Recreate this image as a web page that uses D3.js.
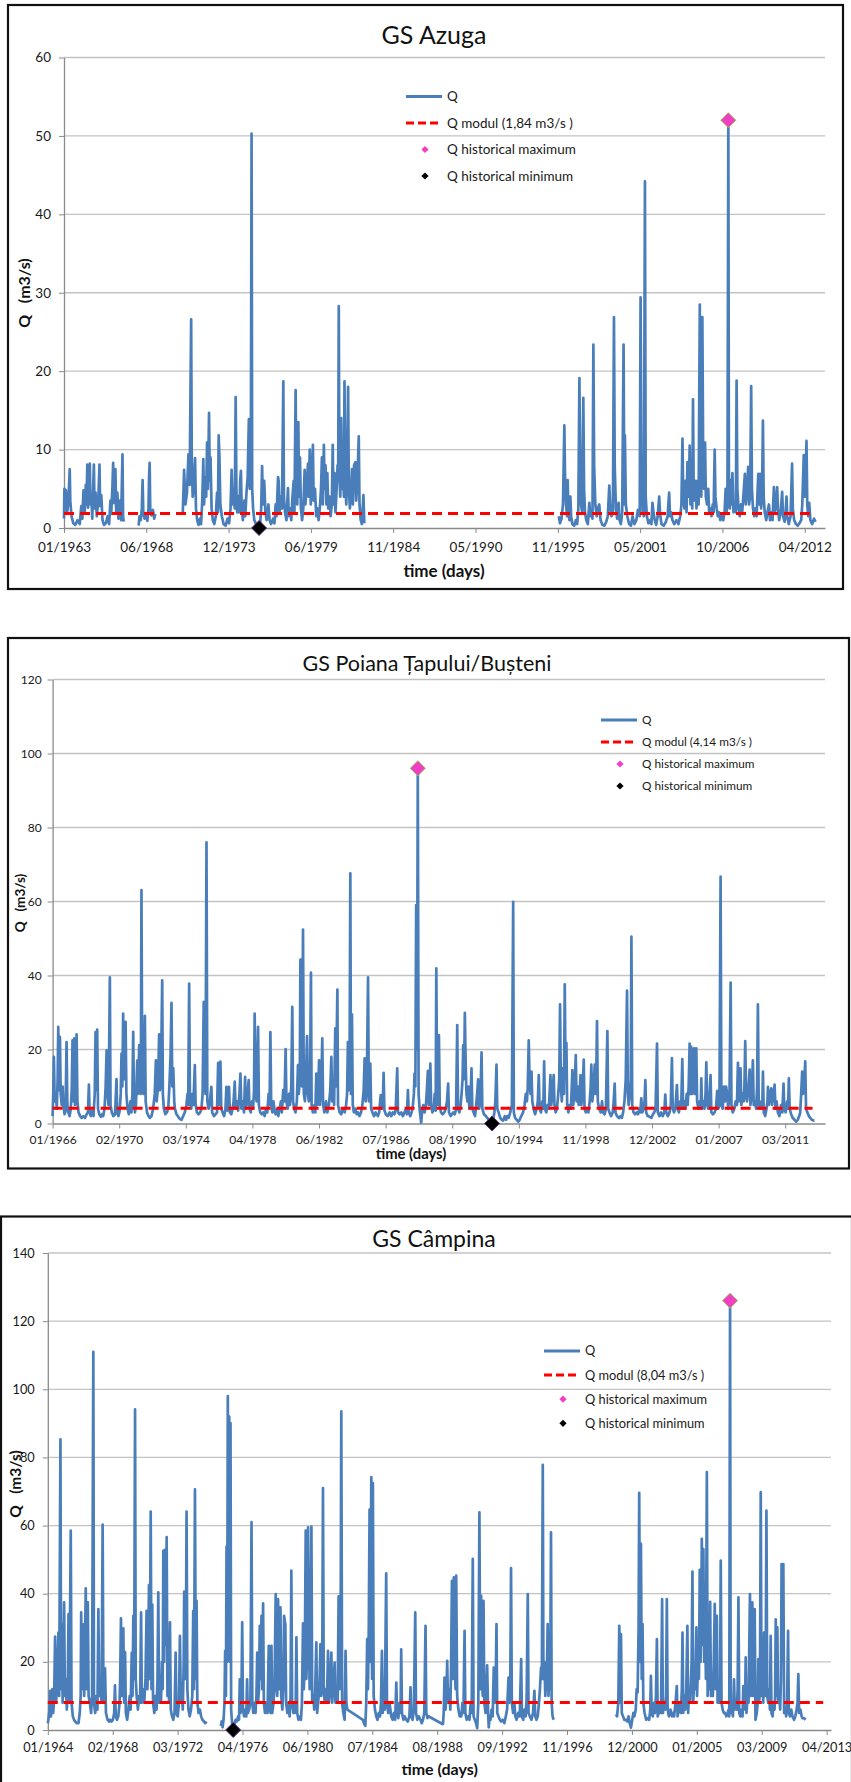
<!DOCTYPE html>
<html>
<head>
<meta charset="UTF-8">
<title>GS discharge series</title>
<style>
  body { margin: 0; background: #fff; }
  svg { display: block; font-family: Lato, "Open Sans", sans-serif; }
  .tick text { fill: #1a1a1a; }
  .legend text { fill: #1a1a1a; }
</style>
</head>
<body>
<svg id="chart" width="851" height="1782"></svg>

<script src="https://d3js.org/d3.v7.min.js"></script>
<script>
// daily discharge, [year fraction, Q m3/s], null = no data
const azugaQ = [
  [1963.00,1.2],[1963.03,5.0],[1963.08,2.5],[1963.13,4.8],[1963.20,1.8],[1963.30,3.5],[1963.38,7.5],[1963.42,3.4],[1963.50,1.5],[1963.62,0.6],[1963.75,0.4],[1963.90,1.0],
  [1964.05,0.5],[1964.15,2.8],[1964.22,1.2],[1964.30,4.8],[1964.38,2.0],[1964.45,5.5],[1964.50,3.0],[1964.55,8.1],[1964.60,2.6],[1964.66,5.0],[1964.72,8.2],[1964.76,3.0],[1964.82,4.0],[1964.88,1.2],
  [1964.99,8.1],[1965.03,2.5],[1965.10,4.5],[1965.18,1.5],[1965.28,3.5],[1965.36,8.1],[1965.40,2.8],[1965.48,4.2],[1965.56,1.0],[1965.66,0.4],[1965.78,0.6],[1965.90,1.5],
  [1966.00,0.5],[1966.09,3.5],[1966.14,1.8],[1966.22,5.2],[1966.27,8.3],[1966.31,3.2],[1966.37,5.0],[1966.42,7.5],[1966.47,2.0],[1966.55,4.5],[1966.62,1.2],[1966.72,3.5],[1966.80,1.0],[1966.89,9.4],[1966.93,1.5],[1966.97,0.8],
  null,
  [1967.97,0.3],[1968.02,1.5],[1968.10,1.0],[1968.18,2.5],[1968.23,6.1],[1968.28,1.8],[1968.36,1.2],[1968.46,1.8],[1968.55,0.9],[1968.62,2.5],[1968.66,6.5],[1968.70,8.3],[1968.74,2.2],[1968.82,1.6],[1968.92,2.3],[1969.00,1.2],[1969.07,1.8],
  null,
  [1970.90,1.8],[1970.99,7.4],[1971.08,3.0],[1971.18,4.5],[1971.28,9.4],[1971.36,5.5],[1971.46,26.6],[1971.50,9.0],[1971.56,4.0],[1971.64,5.5],[1971.72,8.9],[1971.78,2.5],[1971.86,1.0],[1971.95,0.4],
  [1972.05,1.2],[1972.12,0.5],[1972.20,3.5],[1972.27,8.8],[1972.32,3.0],[1972.40,6.5],[1972.46,4.0],[1972.52,10.9],[1972.58,5.0],[1972.65,14.7],[1972.70,6.0],[1972.75,9.0],[1972.82,2.5],[1972.90,1.0],
  [1973.00,0.5],[1973.10,1.5],[1973.18,4.5],[1973.24,2.0],[1973.29,11.8],[1973.34,9.0],[1973.40,3.0],[1973.50,1.5],[1973.62,0.5],[1973.75,0.3],[1973.88,1.2],[1973.98,0.6],
  [1974.08,2.5],[1974.15,7.4],[1974.22,3.0],[1974.30,5.0],[1974.36,2.5],[1974.42,16.7],[1974.47,5.0],[1974.52,2.0],[1974.60,4.0],[1974.67,2.0],[1974.72,6.0],[1974.77,7.3],[1974.82,2.5],[1974.90,1.0],
  [1975.00,3.5],[1975.06,1.5],[1975.14,4.5],[1975.22,6.5],[1975.30,13.9],[1975.36,5.0],[1975.43,8.0],[1975.48,50.3],[1975.52,5.0],[1975.58,2.5],[1975.66,1.0],[1975.78,0.5],[1975.90,0.3],[1975.98,0.15],
  [1976.06,0.8],[1976.12,2.5],[1976.18,7.9],[1976.24,3.0],[1976.32,6.0],[1976.40,2.0],[1976.48,1.0],[1976.60,3.0],[1976.68,1.0],[1976.78,0.5],[1976.91,1.2],
  [1977.00,0.6],[1977.08,3.0],[1977.14,1.5],[1977.20,4.5],[1977.24,6.5],[1977.28,6.0],[1977.34,2.0],[1977.42,4.0],[1977.50,2.5],[1977.59,18.7],[1977.63,4.0],[1977.70,2.0],[1977.80,1.0],[1977.90,5.1],[1977.95,1.5],
  [1978.05,2.5],[1978.12,1.0],[1978.20,4.0],[1978.28,6.0],[1978.33,2.0],[1978.41,17.6],[1978.46,5.0],[1978.52,3.0],[1978.59,13.5],[1978.64,4.0],[1978.70,9.0],[1978.76,2.5],[1978.84,1.0],[1978.92,2.5],
  [1979.01,7.4],[1979.06,3.0],[1979.14,5.0],[1979.23,8.2],[1979.28,4.0],[1979.35,10.0],[1979.42,3.0],[1979.49,6.0],[1979.56,10.6],[1979.61,3.5],[1979.70,5.0],[1979.78,1.5],[1979.86,2.5],[1979.94,1.0],
  [1980.02,2.5],[1980.10,5.0],[1980.16,9.0],[1980.22,3.0],[1980.29,10.6],[1980.34,5.0],[1980.40,8.0],[1980.46,3.0],[1980.52,7.0],[1980.58,2.5],[1980.66,4.0],[1980.74,1.5],[1980.82,3.0],[1980.88,10.6],[1980.93,3.0],
  [1981.00,7.0],[1981.06,2.0],[1981.14,5.0],[1981.20,8.0],[1981.24,6.0],[1981.28,28.3],[1981.32,7.0],[1981.38,4.0],[1981.44,14.0],[1981.50,5.0],[1981.56,8.0],[1981.62,4.0],[1981.66,18.7],[1981.71,6.0],[1981.78,3.0],[1981.84,8.0],[1981.90,18.0],[1981.95,5.0],
  [1982.02,2.5],[1982.10,5.0],[1982.16,7.5],[1982.22,3.0],[1982.30,8.0],[1982.39,8.4],[1982.44,3.5],[1982.52,6.0],[1982.61,11.7],[1982.66,3.0],[1982.74,1.0],[1982.82,0.5],[1982.92,4.2],[1982.98,0.6],
  null,
  [1995.92,1.5],[1996.00,0.6],[1996.10,1.2],[1996.20,3.0],[1996.29,13.1],[1996.34,6.0],[1996.40,3.0],[1996.47,1.5],[1996.51,6.1],[1996.56,2.0],[1996.63,1.0],[1996.69,4.0],[1996.74,1.5],[1996.82,0.5],[1996.95,0.3],
  [1997.05,1.0],[1997.14,0.5],[1997.22,2.5],[1997.29,19.1],[1997.34,8.0],[1997.40,3.0],[1997.47,2.0],[1997.55,16.6],[1997.60,5.0],[1997.66,2.0],[1997.75,1.0],[1997.85,0.5],[1997.95,3.2],
  [1998.02,1.5],[1998.10,2.0],[1998.16,1.2],[1998.22,23.4],[1998.27,8.0],[1998.35,3.0],[1998.44,1.5],[1998.52,2.5],[1998.61,3.0],[1998.70,1.0],[1998.82,0.4],[1998.95,0.3],
  [1999.08,0.8],[1999.18,1.5],[1999.28,5.4],[1999.34,3.0],[1999.42,1.5],[1999.52,1.8],[1999.59,26.9],[1999.64,8.0],[1999.72,2.5],[1999.80,1.2],[1999.90,3.2],[1999.96,1.0],
  [2000.05,0.5],[2000.14,2.0],[2000.23,23.4],[2000.28,3.0],[2000.32,11.8],[2000.38,3.0],[2000.48,1.5],[2000.60,0.5],[2000.72,0.3],[2000.83,1.5],[2000.95,0.5],
  [2001.08,1.0],[2001.18,2.3],[2001.30,1.5],[2001.36,29.4],[2001.42,6.0],[2001.50,2.0],[2001.58,1.5],[2001.65,44.2],[2001.70,4.0],[2001.78,1.5],[2001.88,0.6],
  [2002.00,1.0],[2002.08,0.5],[2002.15,3.2],[2002.22,2.0],[2002.30,1.0],[2002.40,0.4],[2002.50,1.5],[2002.60,4.0],[2002.65,2.0],[2002.75,0.5],[2002.90,0.3],
  [2003.05,0.8],[2003.16,1.5],[2003.26,4.5],[2003.32,1.5],[2003.40,2.0],[2003.48,1.0],[2003.60,0.5],[2003.75,1.0],[2003.88,0.5],
  [2004.00,1.5],[2004.08,3.0],[2004.15,11.4],[2004.20,4.0],[2004.28,2.5],[2004.36,6.0],[2004.42,2.0],[2004.48,8.4],[2004.53,4.0],[2004.58,6.0],[2004.63,10.5],[2004.68,3.0],[2004.74,5.0],[2004.80,2.5],[2004.85,16.4],[2004.90,3.5],[2004.96,5.0],
  [2005.03,6.0],[2005.08,2.5],[2005.15,6.0],[2005.22,3.0],[2005.30,28.5],[2005.34,8.0],[2005.40,4.0],[2005.47,26.9],[2005.52,10.0],[2005.58,5.0],[2005.65,10.9],[2005.70,4.0],[2005.78,3.0],[2005.86,5.0],[2005.92,2.0],
  [2006.00,2.5],[2006.08,1.5],[2006.16,3.0],[2006.22,2.0],[2006.29,10.0],[2006.34,4.0],[2006.42,2.5],[2006.50,1.5],[2006.58,2.0],[2006.66,1.0],[2006.76,1.5],[2006.86,1.0],[2006.95,2.0],
  [2007.02,5.0],[2007.08,2.0],[2007.14,3.0],[2007.20,52.0],[2007.24,4.0],[2007.30,2.5],[2007.35,6.1],[2007.40,3.0],[2007.47,7.0],[2007.54,2.0],[2007.62,3.0],[2007.70,2.0],[2007.75,18.8],[2007.80,5.0],[2007.88,2.5],[2007.96,1.5],
  [2008.05,3.0],[2008.12,2.0],[2008.20,4.0],[2008.30,6.9],[2008.36,3.0],[2008.45,5.0],[2008.52,7.8],[2008.58,3.0],[2008.65,4.0],[2008.72,18.1],[2008.77,5.0],[2008.84,2.5],[2008.92,1.5],
  [2009.00,2.5],[2009.08,1.5],[2009.19,6.9],[2009.25,3.0],[2009.31,6.9],[2009.38,2.5],[2009.44,4.0],[2009.50,13.7],[2009.55,4.0],[2009.62,2.0],[2009.72,1.0],[2009.80,2.0],[2009.90,3.0],[2009.97,1.0],
  [2010.06,2.0],[2010.14,1.0],[2010.23,5.2],[2010.30,2.0],[2010.38,3.0],[2010.45,5.2],[2010.50,2.5],[2010.58,1.0],[2010.68,2.0],[2010.78,4.6],[2010.84,1.5],[2010.94,0.8],
  [2011.00,1.5],[2011.07,4.0],[2011.12,1.5],[2011.22,0.5],[2011.34,1.5],[2011.44,8.2],[2011.49,2.5],[2011.58,1.0],[2011.70,0.5],[2011.82,0.3],[2011.93,0.6],
  [2012.05,1.0],[2012.12,3.0],[2012.22,9.3],[2012.28,4.0],[2012.34,6.0],[2012.40,11.1],[2012.45,3.0],[2012.52,1.5],[2012.58,3.2],[2012.66,1.0],[2012.78,0.5],[2012.90,1.2],[2013.00,0.8]
];
const azugaModul = 1.84;
const azugaMax = [2007.20, 52.0];
const azugaMin = [1975.98, 0.1];

const poianaQ = [
  [1966.00,2.0],[1966.04,8.0],[1966.08,18.0],[1966.13,6.0],[1966.21,8.0],[1966.26,4.0],[1966.31,12.0],[1966.35,26.1],[1966.40,9.0],[1966.45,23.4],[1966.50,8.0],[1966.56,5.0],[1966.62,10.0],[1966.66,5.0],[1966.74,2.5],[1966.80,3.5],[1966.86,22.0],[1966.91,5.0],[1966.97,3.0],
  [1967.05,2.0],[1967.12,4.0],[1967.18,9.0],[1967.23,22.5],[1967.28,6.0],[1967.33,23.0],[1967.38,5.0],[1967.43,10.0],[1967.48,24.1],[1967.53,6.0],[1967.60,3.0],[1967.70,2.0],[1967.79,1.5],[1967.90,2.0],
  [1968.00,1.5],[1968.10,2.5],[1968.18,3.0],[1968.24,10.5],[1968.28,3.0],[1968.36,2.0],[1968.45,3.5],[1968.52,2.0],[1968.60,8.0],[1968.65,24.7],[1968.70,9.0],[1968.75,25.4],[1968.80,4.0],[1968.88,2.5],[1968.98,1.8],
  [1969.05,2.5],[1969.12,2.0],[1969.20,4.0],[1969.27,10.0],[1969.33,19.8],[1969.38,8.0],[1969.45,5.0],[1969.53,39.5],[1969.57,5.0],[1969.65,3.0],[1969.75,2.0],[1969.85,2.5],[1969.94,12.0],[1969.98,3.0],
  [1970.06,2.0],[1970.14,3.5],[1970.20,8.0],[1970.25,18.9],[1970.30,10.0],[1970.35,29.7],[1970.40,12.0],[1970.45,20.0],[1970.50,27.5],[1970.55,8.0],[1970.62,4.0],[1970.70,2.5],[1970.80,6.0],[1970.86,3.0],[1970.92,8.0],[1970.97,24.8],
  [1971.02,6.0],[1971.08,3.0],[1971.14,5.0],[1971.22,17.0],[1971.27,8.0],[1971.34,21.2],[1971.40,12.0],[1971.44,8.0],[1971.48,63.1],[1971.53,10.0],[1971.60,8.0],[1971.64,14.0],[1971.69,29.1],[1971.74,6.0],[1971.82,3.0],[1971.92,2.0],
  [1972.00,1.5],[1972.10,2.0],[1972.20,4.0],[1972.30,8.0],[1972.37,17.1],[1972.42,6.0],[1972.50,10.0],[1972.57,24.1],[1972.62,9.0],[1972.68,12.0],[1972.76,38.7],[1972.80,8.0],[1972.86,4.0],[1972.95,2.5],
  [1973.04,3.0],[1973.13,4.0],[1973.20,10.0],[1973.27,18.0],[1973.33,32.6],[1973.38,10.0],[1973.44,15.0],[1973.50,6.0],[1973.54,4.0],[1973.64,2.5],[1973.75,1.8],[1973.85,1.2],[1973.95,1.0],
  [1974.05,2.0],[1974.15,3.0],[1974.25,5.0],[1974.32,8.0],[1974.36,5.0],[1974.42,37.8],[1974.47,6.0],[1974.55,4.0],[1974.62,8.0],[1974.68,5.0],[1974.77,15.8],[1974.82,5.0],[1974.90,3.0],
  [1975.00,2.5],[1975.10,3.0],[1975.18,4.0],[1975.25,8.0],[1975.32,32.9],[1975.38,12.0],[1975.43,8.0],[1975.49,76.0],[1975.54,6.0],[1975.62,4.0],[1975.70,6.0],[1975.79,9.9],[1975.84,3.0],[1975.95,2.0],
  [1976.05,2.5],[1976.14,3.0],[1976.21,16.4],[1976.28,5.0],[1976.35,16.7],[1976.40,4.0],[1976.48,3.0],[1976.58,2.0],[1976.66,4.0],[1976.72,9.9],[1976.78,3.5],[1976.88,9.9],[1976.93,3.0],
  [1977.02,2.5],[1977.10,4.0],[1977.16,6.0],[1977.23,11.3],[1977.28,4.0],[1977.36,6.0],[1977.44,3.5],[1977.52,8.0],[1977.58,13.5],[1977.64,4.0],[1977.72,6.0],[1977.80,3.0],[1977.87,12.6],[1977.92,4.0],
  [1978.00,6.0],[1978.09,11.7],[1978.14,4.0],[1978.22,3.0],[1978.30,6.0],[1978.36,4.0],[1978.42,9.0],[1978.46,29.7],[1978.52,8.0],[1978.58,6.0],[1978.67,26.1],[1978.72,5.0],[1978.80,3.0],[1978.90,2.5],[1978.98,3.0],
  [1979.08,2.0],[1979.16,4.0],[1979.24,3.0],[1979.32,8.0],[1979.38,5.0],[1979.43,24.7],[1979.48,5.0],[1979.55,3.0],[1979.62,6.0],[1979.70,3.0],[1979.76,2.5],[1979.85,4.0],[1979.92,2.0],
  [1980.00,4.0],[1980.08,6.0],[1980.14,3.0],[1980.22,9.0],[1980.30,6.0],[1980.37,20.1],[1980.42,6.0],[1980.50,4.0],[1980.58,8.0],[1980.64,5.0],[1980.72,10.0],[1980.78,31.5],[1980.83,6.0],[1980.90,4.0],[1980.98,3.0],
  [1981.06,6.0],[1981.13,15.8],[1981.18,8.0],[1981.24,12.0],[1981.28,44.3],[1981.32,14.0],[1981.38,10.0],[1981.44,52.4],[1981.49,8.0],[1981.56,6.0],[1981.62,12.0],[1981.69,23.6],[1981.74,8.0],[1981.80,6.0],[1981.87,10.0],[1981.93,40.8],[1981.97,5.0],
  [1982.05,3.0],[1982.14,5.0],[1982.20,3.0],[1982.26,13.5],[1982.32,5.0],[1982.38,8.0],[1982.43,17.1],[1982.48,5.0],[1982.56,9.0],[1982.63,23.0],[1982.68,5.0],[1982.76,3.0],[1982.86,6.0],[1982.94,3.0],
  [1983.04,5.0],[1983.12,9.0],[1983.19,18.0],[1983.24,6.0],[1983.30,10.0],[1983.36,5.0],[1983.43,25.7],[1983.48,10.0],[1983.56,36.2],[1983.60,5.0],[1983.70,3.0],[1983.80,2.5],[1983.90,4.0],
  [1984.01,3.0],[1984.10,5.0],[1984.16,8.0],[1984.21,22.0],[1984.26,9.0],[1984.31,12.0],[1984.36,67.6],[1984.40,8.0],[1984.46,29.5],[1984.51,5.0],[1984.58,3.0],[1984.68,4.0],[1984.75,2.5],[1984.83,3.0],[1984.92,2.0],
  [1985.02,3.0],[1985.10,5.0],[1985.18,9.0],[1985.24,17.6],[1985.30,6.0],[1985.37,9.0],[1985.45,39.5],[1985.50,6.0],[1985.59,16.2],[1985.64,4.0],[1985.72,3.0],[1985.82,2.0],[1985.92,3.0],
  [1986.06,2.0],[1986.14,3.0],[1986.23,7.7],[1986.30,4.0],[1986.36,5.0],[1986.41,13.7],[1986.46,3.5],[1986.55,2.5],[1986.66,2.0],[1986.78,3.0],[1986.88,2.0],[1986.98,3.0],
  [1987.08,2.5],[1987.16,4.0],[1987.25,14.9],[1987.30,3.0],[1987.40,2.5],[1987.50,3.0],[1987.60,2.0],[1987.70,3.0],[1987.80,4.0],[1987.85,2.5],[1987.91,9.0],[1987.96,3.0],
  [1988.06,2.0],[1988.14,3.0],[1988.22,5.0],[1988.28,8.0],[1988.32,13.5],[1988.37,10.0],[1988.42,59.0],[1988.47,20.0],[1988.52,96.0],[1988.57,8.0],[1988.63,4.0],[1988.68,2.0],[1988.73,0.2],[1988.78,3.0],[1988.86,5.0],[1988.94,3.0],
  [1989.02,5.0],[1989.09,10.0],[1989.14,14.2],[1989.20,5.0],[1989.25,8.0],[1989.29,16.2],[1989.34,5.0],[1989.42,3.0],[1989.50,4.0],[1989.56,8.0],[1989.62,3.5],[1989.66,41.9],[1989.71,8.0],[1989.77,5.0],[1989.82,23.9],[1989.87,5.0],[1989.95,3.0],
  [1990.05,2.5],[1990.15,3.0],[1990.24,4.0],[1990.32,6.0],[1990.39,10.8],[1990.44,3.0],[1990.55,2.0],[1990.70,3.0],[1990.80,2.5],[1990.88,4.0],[1990.95,26.6],
  [1991.00,4.0],[1991.08,3.0],[1991.16,5.0],[1991.22,8.0],[1991.28,12.0],[1991.32,21.2],[1991.37,12.0],[1991.42,29.9],[1991.47,16.7],[1991.52,8.0],[1991.58,6.0],[1991.64,10.0],[1991.70,4.0],[1991.78,8.0],[1991.83,14.9],[1991.88,4.0],[1991.96,3.0],
  [1992.05,2.0],[1992.12,5.0],[1992.18,8.0],[1992.24,11.9],[1992.30,4.0],[1992.38,6.0],[1992.45,19.2],[1992.50,4.0],[1992.60,2.5],[1992.72,2.0],[1992.80,1.5],[1992.90,1.0],
  [1993.00,0.6],[1993.10,0.1],[1993.18,1.5],[1993.24,3.0],[1993.30,6.0],[1993.37,15.9],[1993.42,4.0],[1993.50,3.0],[1993.60,1.5],[1993.70,1.0],[1993.78,0.8],[1993.88,2.0],[1993.96,1.0],
  [1994.04,2.0],[1994.12,1.5],[1994.22,3.0],[1994.32,5.0],[1994.40,59.9],[1994.44,3.0],[1994.52,1.5],[1994.62,1.0],[1994.71,0.5],[1994.80,1.0],[1994.90,2.0],
  [1995.01,3.0],[1995.10,5.0],[1995.18,8.0],[1995.25,6.0],[1995.30,10.0],[1995.36,22.5],[1995.41,12.0],[1995.47,8.0],[1995.53,14.0],[1995.58,6.0],[1995.66,4.0],[1995.75,2.5],[1995.85,4.0],[1995.92,6.0],[1995.98,13.1],
  [1996.03,4.0],[1996.12,3.0],[1996.20,6.0],[1996.26,4.0],[1996.31,16.8],[1996.36,4.0],[1996.44,3.0],[1996.52,5.0],[1996.60,4.0],[1996.70,13.1],[1996.75,5.0],[1996.82,8.0],[1996.90,13.1],[1996.95,5.0],
  [1997.02,3.0],[1997.10,4.0],[1997.18,8.0],[1997.24,12.0],[1997.29,32.2],[1997.34,10.0],[1997.40,6.0],[1997.47,15.0],[1997.53,8.0],[1997.58,37.6],[1997.63,12.0],[1997.68,21.8],[1997.73,5.0],[1997.80,3.0],[1997.88,5.0],[1997.96,4.0],
  [1998.05,14.4],[1998.10,5.0],[1998.18,8.0],[1998.26,18.5],[1998.31,6.0],[1998.38,10.0],[1998.44,5.0],[1998.50,8.0],[1998.55,13.1],[1998.60,5.0],[1998.68,8.0],[1998.75,17.3],[1998.80,4.0],[1998.88,3.0],[1998.96,4.0],
  [1999.04,3.0],[1999.12,6.0],[1999.18,10.0],[1999.22,15.9],[1999.28,6.0],[1999.35,9.0],[1999.43,15.9],[1999.48,8.0],[1999.52,12.0],[1999.57,27.7],[1999.62,6.0],[1999.70,4.0],[1999.80,3.0],[1999.88,6.0],[1999.94,3.0],
  [2000.04,2.5],[2000.12,4.0],[2000.21,25.0],[2000.26,4.0],[2000.34,3.0],[2000.44,2.0],[2000.54,3.0],[2000.60,6.0],[2000.66,10.8],[2000.71,3.0],[2000.80,2.0],[2000.92,1.5],
  [2001.02,2.0],[2001.10,1.5],[2001.18,3.0],[2001.26,6.0],[2001.34,12.0],[2001.42,35.9],[2001.47,8.0],[2001.52,5.0],[2001.60,8.0],[2001.65,12.0],[2001.69,50.5],[2001.74,5.0],[2001.82,3.0],[2001.92,2.5],
  [2002.02,3.0],[2002.10,2.5],[2002.18,4.0],[2002.24,3.0],[2002.30,6.8],[2002.36,3.0],[2002.44,4.0],[2002.50,6.0],[2002.55,11.7],[2002.60,3.0],[2002.70,2.0],[2002.82,1.8],[2002.92,1.5],
  [2003.02,2.5],[2003.10,3.0],[2003.18,4.0],[2003.27,21.6],[2003.32,3.0],[2003.42,2.0],[2003.52,3.0],[2003.62,2.0],[2003.72,3.0],[2003.78,7.8],[2003.84,3.0],[2003.94,2.0],
  [2004.04,3.0],[2004.12,5.0],[2004.19,17.7],[2004.24,4.0],[2004.32,3.0],[2004.40,4.0],[2004.50,10.4],[2004.55,4.0],[2004.62,3.0],[2004.70,6.0],[2004.76,4.0],[2004.83,17.4],[2004.88,4.0],[2004.95,6.0],
  [2005.02,4.0],[2005.10,8.0],[2005.16,5.0],[2005.22,10.0],[2005.28,21.6],[2005.33,8.0],[2005.38,20.7],[2005.43,8.0],[2005.49,12.0],[2005.55,20.3],[2005.60,8.0],[2005.65,12.0],[2005.69,20.3],[2005.74,6.0],[2005.82,4.0],[2005.90,6.0],[2005.96,4.0],
  [2006.00,12.2],[2006.05,4.0],[2006.12,6.0],[2006.20,4.0],[2006.26,8.0],[2006.31,16.5],[2006.36,5.0],[2006.44,4.0],[2006.51,8.0],[2006.57,13.1],[2006.62,3.0],[2006.72,2.5],[2006.82,3.0],[2006.90,4.0],[2006.98,8.8],
  [2007.04,4.0],[2007.12,5.0],[2007.19,66.7],[2007.24,5.0],[2007.32,4.0],[2007.40,10.0],[2007.46,6.0],[2007.53,10.0],[2007.60,7.9],[2007.66,4.0],[2007.74,8.0],[2007.81,38.1],[2007.86,5.0],[2007.94,3.0],
  [2008.04,4.0],[2008.12,6.0],[2008.20,5.0],[2008.26,16.4],[2008.31,6.0],[2008.37,9.0],[2008.42,14.9],[2008.47,5.0],[2008.55,8.0],[2008.62,6.0],[2008.66,10.0],[2008.71,22.3],[2008.76,8.0],[2008.82,6.0],[2008.90,9.0],[2008.98,14.6],
  [2009.03,5.0],[2009.10,8.0],[2009.18,17.1],[2009.23,5.0],[2009.30,6.0],[2009.38,4.0],[2009.44,10.0],[2009.49,32.2],[2009.54,5.0],[2009.62,4.0],[2009.70,6.0],[2009.76,4.0],[2009.80,14.0],[2009.85,3.0],[2009.94,2.0],
  [2010.02,4.0],[2010.08,6.0],[2010.11,9.9],[2010.16,5.0],[2010.22,7.0],[2010.31,9.5],[2010.36,5.0],[2010.44,8.0],[2010.52,10.5],[2010.57,4.0],[2010.64,6.0],[2010.72,3.0],[2010.82,2.0],[2010.92,5.0],
  [2011.00,3.0],[2011.07,10.8],[2011.12,4.0],[2011.20,3.0],[2011.30,6.0],[2011.35,4.0],[2011.40,12.2],[2011.45,4.0],[2011.54,2.5],[2011.64,1.5],[2011.75,1.0],[2011.85,0.5],[2011.95,1.0],
  [2012.04,2.0],[2012.10,3.0],[2012.16,8.0],[2012.22,14.0],[2012.28,8.0],[2012.34,10.0],[2012.41,16.8],[2012.46,4.0],[2012.54,3.0],[2012.64,2.0],[2012.72,1.5],[2012.82,1.0],[2012.92,0.8],[2012.98,0.8]
];
const poianaModul = 4.14;
const poianaMax = [1988.52, 96.0];
const poianaMin = [1993.10, 0.1];

const campinaQ = [
  [1964.00,2.0],[1964.04,3.0],[1964.10,6.0],[1964.15,11.5],[1964.20,4.0],[1964.29,12.0],[1964.34,5.0],[1964.40,9.0],[1964.46,27.4],[1964.52,8.0],[1964.58,12.0],[1964.67,28.6],[1964.72,10.0],[1964.80,85.3],[1964.84,12.0],[1964.88,31.0],[1964.94,8.0],
  [1965.03,37.5],[1965.08,10.0],[1965.14,15.0],[1965.20,6.0],[1965.26,12.0],[1965.31,34.0],[1965.36,8.0],[1965.45,58.5],[1965.50,8.0],[1965.58,4.0],[1965.66,3.0],[1965.73,2.5],[1965.84,2.0],[1965.94,2.0],
  [1966.02,5.0],[1966.08,10.0],[1966.11,34.5],[1966.16,12.0],[1966.20,20.0],[1966.25,31.0],[1966.30,10.0],[1966.35,25.0],[1966.40,41.6],[1966.45,12.0],[1966.53,37.5],[1966.58,10.0],[1966.66,8.0],[1966.74,5.0],[1966.80,10.0],[1966.88,111.0],[1966.92,8.0],
  [1967.00,5.0],[1967.08,10.0],[1967.14,6.0],[1967.20,35.5],[1967.25,10.0],[1967.32,15.0],[1967.40,8.0],[1967.47,60.3],[1967.52,10.0],[1967.58,8.0],[1967.62,18.1],[1967.68,5.0],[1967.78,3.0],[1967.88,2.5],[1967.94,3.0],
  [1968.04,2.5],[1968.12,3.0],[1968.20,5.0],[1968.25,13.1],[1968.30,4.0],[1968.38,3.0],[1968.46,4.0],[1968.54,8.0],[1968.58,15.0],[1968.63,32.8],[1968.68,10.0],[1968.74,15.0],[1968.78,29.8],[1968.83,8.0],[1968.89,22.9],[1968.94,5.0],
  [1969.02,3.0],[1969.10,6.0],[1969.18,10.0],[1969.24,6.0],[1969.31,22.7],[1969.36,10.0],[1969.41,33.5],[1969.46,15.0],[1969.52,94.1],[1969.56,15.0],[1969.62,10.0],[1969.70,6.0],[1969.78,10.0],[1969.84,8.0],[1969.90,34.5],[1969.95,8.0],
  [1970.02,12.0],[1970.10,8.0],[1970.18,15.0],[1970.25,35.0],[1970.30,12.0],[1970.35,20.0],[1970.40,42.6],[1970.45,15.0],[1970.51,64.1],[1970.56,12.0],[1970.61,36.8],[1970.66,8.0],[1970.74,5.0],[1970.82,10.0],[1970.88,6.0],[1970.94,15.0],[1970.99,40.4],
  [1971.04,8.0],[1971.10,12.0],[1971.16,8.0],[1971.22,20.0],[1971.27,12.0],[1971.31,52.6],[1971.36,20.0],[1971.41,52.9],[1971.46,25.0],[1971.52,56.6],[1971.57,10.0],[1971.62,15.0],[1971.68,8.0],[1971.73,31.6],[1971.78,6.0],[1971.86,4.0],[1971.94,3.0],
  [1972.02,5.0],[1972.09,22.7],[1972.14,5.0],[1972.22,4.0],[1972.30,8.0],[1972.36,27.6],[1972.42,8.0],[1972.48,12.0],[1972.54,6.0],[1972.60,20.0],[1972.63,40.6],[1972.68,15.0],[1972.74,25.0],[1972.78,64.1],[1972.83,12.0],[1972.90,6.0],[1972.98,4.0],
  [1973.06,6.0],[1973.14,10.0],[1973.20,35.0],[1973.25,12.0],[1973.31,70.6],[1973.36,15.0],[1973.41,37.9],[1973.46,8.0],[1973.54,5.0],[1973.62,6.0],[1973.70,4.0],[1973.78,3.0],[1973.88,2.5],[1973.96,2.0],[1974.04,2.5],
  null,
  [1974.95,1.2],[1975.00,2.5],[1975.06,0.8],[1975.12,3.0],[1975.18,8.0],[1975.22,23.2],[1975.27,10.0],[1975.31,53.8],[1975.35,20.0],[1975.39,98.0],[1975.44,30.0],[1975.48,92.0],[1975.52,20.0],[1975.56,90.1],[1975.60,6.0],[1975.66,2.0],[1975.73,0.2],[1975.80,1.5],[1975.88,3.0],[1975.96,2.5],
  [1976.04,4.0],[1976.10,3.0],[1976.15,14.9],[1976.20,5.0],[1976.25,8.0],[1976.30,31.6],[1976.35,6.0],[1976.42,4.0],[1976.50,6.0],[1976.56,4.0],[1976.61,14.9],[1976.66,5.0],[1976.74,6.0],[1976.82,8.0],[1976.89,61.0],[1976.94,8.0],
  [1977.00,5.0],[1977.08,8.0],[1977.14,5.0],[1977.20,10.0],[1977.25,22.7],[1977.30,8.0],[1977.36,12.0],[1977.41,30.6],[1977.46,15.0],[1977.52,33.5],[1977.57,12.0],[1977.62,37.2],[1977.67,8.0],[1977.74,5.0],[1977.82,8.0],[1977.90,5.0],[1977.98,24.7],
  [1978.03,6.0],[1978.10,5.0],[1978.15,24.7],[1978.20,5.0],[1978.28,8.0],[1978.34,12.0],[1978.42,39.9],[1978.47,15.0],[1978.52,10.0],[1978.57,38.4],[1978.62,12.0],[1978.67,20.0],[1978.72,36.0],[1978.77,10.0],[1978.84,6.0],[1978.90,12.0],[1978.95,33.5],
  [1979.03,31.0],[1979.08,8.0],[1979.16,5.0],[1979.24,8.0],[1979.30,4.0],[1979.36,10.0],[1979.41,46.8],[1979.46,8.0],[1979.54,5.0],[1979.62,8.0],[1979.68,5.0],[1979.73,27.2],[1979.78,5.0],[1979.86,3.0],[1979.94,4.0],
  [1980.02,3.0],[1980.08,8.0],[1980.15,31.3],[1980.20,12.0],[1980.26,20.0],[1980.32,58.5],[1980.36,15.0],[1980.42,25.0],[1980.47,59.5],[1980.52,28.1],[1980.57,12.0],[1980.62,20.0],[1980.68,59.7],[1980.73,8.0],[1980.80,10.0],[1980.86,6.0],[1980.92,12.0],[1980.99,25.7],
  [1981.04,5.0],[1981.10,8.0],[1981.18,12.0],[1981.25,25.2],[1981.30,10.0],[1981.36,15.0],[1981.41,71.0],[1981.46,12.0],[1981.52,8.0],[1981.60,12.0],[1981.66,8.0],[1981.73,23.2],[1981.78,8.0],[1981.86,12.0],[1981.94,22.7],[1981.99,8.0],
  [1982.06,12.0],[1982.15,19.8],[1982.20,8.0],[1982.28,12.0],[1982.34,8.0],[1982.40,39.2],[1982.45,12.0],[1982.52,20.0],[1982.57,93.5],[1982.62,8.0],[1982.70,5.0],[1982.78,3.0],[1982.84,23.2],[1982.89,8.0],[1982.95,6.0],
  [1983.94,3.0],[1984.00,2.0],[1984.09,1.2],[1984.15,8.0],[1984.21,26.7],[1984.26,12.0],[1984.31,30.0],[1984.36,64.7],[1984.40,20.0],[1984.44,50.0],[1984.47,74.2],[1984.52,15.0],[1984.57,72.5],[1984.62,10.0],[1984.70,6.0],[1984.78,4.0],[1984.86,3.0],[1984.94,5.0],
  [1985.02,4.0],[1985.08,8.0],[1985.14,23.2],[1985.19,5.0],[1985.26,10.0],[1985.32,6.0],[1985.41,46.0],[1985.46,8.0],[1985.54,5.0],[1985.62,8.0],[1985.73,4.0],[1985.82,3.0],[1985.90,5.0],[1985.98,3.0],
  [1986.05,13.9],[1986.10,5.0],[1986.18,3.5],[1986.26,8.0],[1986.32,5.0],[1986.36,23.7],[1986.41,5.0],[1986.50,3.0],[1986.58,4.0],[1986.68,3.0],[1986.78,2.5],[1986.88,4.0],[1986.95,12.5],
  [1987.00,4.0],[1987.08,3.0],[1987.16,6.0],[1987.25,34.5],[1987.30,5.0],[1987.38,3.0],[1987.48,4.0],[1987.58,3.0],[1987.66,2.0],[1987.74,3.0],[1987.82,5.0],[1987.90,30.6],[1987.95,5.0],[1988.02,3.5],[1988.05,4.1],
  [1989.00,1.7],[1989.05,5.0],[1989.10,15.4],[1989.16,6.0],[1989.22,10.0],[1989.27,20.3],[1989.32,8.0],[1989.40,12.0],[1989.47,6.0],[1989.52,20.0],[1989.57,43.8],[1989.62,15.0],[1989.69,44.8],[1989.74,20.0],[1989.80,12.0],[1989.84,45.3],[1989.90,10.0],[1989.98,6.0],
  [1990.06,4.0],[1990.16,4.0],[1990.24,8.0],[1990.30,5.0],[1990.37,29.1],[1990.42,5.0],[1990.50,3.0],[1990.60,4.0],[1990.68,3.0],[1990.76,8.0],[1990.82,5.0],[1990.89,50.2],[1990.94,4.0],
  [1991.02,3.0],[1991.10,2.0],[1991.17,0.5],[1991.24,8.0],[1991.31,63.9],[1991.36,12.0],[1991.42,39.4],[1991.47,15.0],[1991.52,10.0],[1991.57,37.9],[1991.62,8.0],[1991.70,5.0],[1991.75,12.0],[1991.80,19.0],[1991.86,5.0],[1991.90,0.8],[1991.94,3.0],
  [1992.01,3.0],[1992.08,6.0],[1992.15,4.0],[1992.22,18.3],[1992.28,8.0],[1992.34,12.0],[1992.39,31.1],[1992.44,5.0],[1992.52,4.0],[1992.60,3.0],[1992.68,2.5],[1992.78,3.0],[1992.89,2.0],[1992.98,4.0],
  [1993.06,6.0],[1993.15,15.4],[1993.20,8.0],[1993.26,12.0],[1993.31,47.5],[1993.36,8.0],[1993.44,5.0],[1993.52,8.0],[1993.58,4.0],[1993.66,3.0],[1993.76,5.0],[1993.86,4.0],[1993.95,20.8],
  [1994.00,4.0],[1994.08,3.0],[1994.16,6.0],[1994.24,4.0],[1994.30,10.0],[1994.37,39.9],[1994.42,5.0],[1994.50,4.0],[1994.60,3.0],[1994.70,5.0],[1994.79,11.5],[1994.84,4.0],[1994.92,3.0],
  [1995.00,4.0],[1995.08,8.0],[1995.14,12.0],[1995.21,18.3],[1995.26,15.0],[1995.32,77.8],[1995.36,15.0],[1995.42,20.0],[1995.48,10.0],[1995.54,15.0],[1995.59,20.0],[1995.63,31.1],[1995.68,10.0],[1995.74,19.3],[1995.79,12.0],[1995.84,58.0],[1995.88,8.0],[1995.94,4.0],[1996.01,3.0],
  null,
  [1999.95,4.6],[2000.02,4.0],[2000.10,8.0],[2000.16,30.6],[2000.21,8.0],[2000.27,28.1],[2000.32,5.0],[2000.40,4.0],[2000.48,3.0],[2000.58,3.0],[2000.66,2.5],[2000.75,4.0],[2000.82,2.0],[2000.90,0.7],[2000.98,3.0],
  [2001.05,5.0],[2001.11,4.0],[2001.20,6.0],[2001.26,12.0],[2001.32,11.0],[2001.38,30.0],[2001.42,69.6],[2001.47,20.0],[2001.53,54.6],[2001.58,15.0],[2001.63,31.1],[2001.68,8.0],[2001.76,5.0],[2001.86,3.0],[2001.96,3.5],
  [2002.05,3.0],[2002.12,6.0],[2002.16,15.9],[2002.21,5.0],[2002.28,4.0],[2002.36,8.0],[2002.42,5.0],[2002.48,10.0],[2002.54,26.7],[2002.59,4.0],[2002.66,5.0],[2002.74,8.0],[2002.80,5.0],[2002.87,38.4],[2002.92,5.0],
  [2003.00,8.0],[2003.06,6.0],[2003.12,10.0],[2003.17,38.4],[2003.22,6.0],[2003.30,4.0],[2003.40,6.0],[2003.50,4.0],[2003.58,5.0],[2003.63,4.0],[2003.72,8.0],[2003.80,12.9],[2003.85,4.0],[2003.92,6.0],
  [2004.00,8.0],[2004.06,5.0],[2004.12,12.0],[2004.16,28.6],[2004.21,5.0],[2004.28,10.0],[2004.34,6.0],[2004.40,12.0],[2004.47,30.6],[2004.52,5.0],[2004.58,12.0],[2004.64,8.0],[2004.70,15.0],[2004.74,20.0],[2004.79,46.5],[2004.84,8.0],[2004.90,15.0],[2004.96,12.0],
  [2005.00,20.0],[2005.04,30.1],[2005.08,10.0],[2005.14,20.0],[2005.20,15.0],[2005.25,47.0],[2005.30,20.0],[2005.34,30.0],[2005.38,56.1],[2005.43,25.0],[2005.48,53.1],[2005.53,20.0],[2005.59,31.1],[2005.64,15.0],[2005.70,75.7],[2005.75,10.0],[2005.80,20.0],[2005.86,12.0],[2005.91,37.6],[2005.96,10.0],
  [2006.02,15.0],[2006.08,10.0],[2006.14,20.0],[2006.20,37.0],[2006.26,12.0],[2006.33,33.5],[2006.38,8.0],[2006.44,12.0],[2006.50,8.0],[2006.54,15.0],[2006.58,49.7],[2006.63,8.0],[2006.70,6.0],[2006.78,5.0],[2006.85,5.0],[2006.94,4.0],
  [2007.02,5.0],[2007.08,6.0],[2007.12,4.0],[2007.17,126.0],[2007.21,5.0],[2007.28,6.0],[2007.35,4.0],[2007.42,14.9],[2007.47,6.0],[2007.54,8.0],[2007.60,6.0],[2007.65,12.0],[2007.70,38.9],[2007.75,5.0],[2007.82,4.0],[2007.90,6.0],[2007.96,4.0],
  [2008.01,12.9],[2008.06,6.0],[2008.12,8.0],[2008.16,21.3],[2008.21,5.0],[2008.28,10.0],[2008.34,8.0],[2008.43,39.9],[2008.48,10.0],[2008.53,15.0],[2008.58,37.5],[2008.63,10.0],[2008.68,12.0],[2008.73,35.5],[2008.78,3.0],[2008.86,5.0],[2008.92,8.0],[2008.96,20.8],
  [2009.01,8.0],[2009.06,12.0],[2009.11,69.8],[2009.16,10.0],[2009.22,15.0],[2009.27,8.0],[2009.32,28.6],[2009.37,10.0],[2009.42,15.0],[2009.47,64.4],[2009.52,10.0],[2009.58,8.0],[2009.64,12.0],[2009.69,6.0],[2009.74,27.6],[2009.79,5.0],[2009.86,4.0],[2009.92,8.0],[2009.98,6.0],
  [2010.02,10.0],[2010.06,32.5],[2010.11,10.0],[2010.16,30.1],[2010.21,8.0],[2010.28,10.0],[2010.34,6.0],[2010.39,15.0],[2010.43,48.7],[2010.48,20.0],[2010.54,48.7],[2010.59,5.0],[2010.66,6.0],[2010.72,4.0],[2010.78,8.0],[2010.84,29.1],[2010.89,5.0],[2010.96,4.0],
  [2011.04,6.0],[2011.12,4.0],[2011.22,3.0],[2011.30,4.0],[2011.38,6.0],[2011.44,8.0],[2011.49,16.4],[2011.54,5.0],[2011.62,6.0],[2011.70,4.0],[2011.74,3.5],[2011.84,3.5],[2011.95,3.0]
];
const campinaModul = 8.04;
const campinaMax = [2007.17, 126.0];
const campinaMin = [1975.73, 0.2];

const legendLabels = ["Q", "Q historical maximum", "Q historical minimum"];
const yTitle = "Q\u00A0\u00A0\u00A0(m3/s)";

// layout of the three framed charts (pixels)
const panels = [
  {
    title: "GS Azuga", q: azugaQ, modul: azugaModul, modulText: "Q modul (1,84 m3/s )",
    max: azugaMax, min: azugaMin, modulSpan: [1963.0, 2012.92],
    startYear: 1963, tickStep: 2000, nTicks: 10, endDays: 18493, yMax: 60, yStep: 10,
    box: [8, 5, 843, 589], left: 64, right: 825, top: 57.5, bottom: 528,
    titleX: 434, titleY: 35, titleSize: 25,
    lgX: 406, lgY: 96.5, lgDy: 26.5, lgSize: 13.5,
    tickSize: 13.5, tickY: 547, yPad: 8,
    xtX: 444, xtY: 571, xtSize: 17, ytX: 24, ytY: 293, ytSize: 16
  },
  {
    title: "GS Poiana \u021Aapului/Bu\u0219teni", q: poianaQ, modul: poianaModul, modulText: "Q modul (4,14 m3/s )",
    max: poianaMax, min: poianaMin, modulSpan: [1966.0, 2012.86],
    startYear: 1966, tickStep: 1500, nTicks: 12, endDays: 17396, yMax: 120, yStep: 20,
    box: [8, 638, 849, 1168.5], left: 52.6, right: 825, top: 679.5, bottom: 1123.5,
    titleX: 427, titleY: 663, titleSize: 21.5,
    lgX: 601, lgY: 720, lgDy: 22, lgSize: 11.8,
    tickSize: 12, tickY: 1140, yPad: 6,
    xtX: 411, xtY: 1153.8, xtSize: 14.8, ytX: 20.6, ytY: 903, ytSize: 13.5
  },
  {
    title: "GS C\u00E2mpina", q: campinaQ, modul: campinaModul, modulText: "Q modul (8,04 m3/s )",
    max: campinaMax, min: campinaMin, modulSpan: [1964.0, 2013.06],
    startYear: 1964, tickStep: 1500, nTicks: 13, endDays: 18101, yMax: 140, yStep: 20,
    box: [1, 1216.5, 852, 1790], left: 47.8, right: 831, top: 1253, bottom: 1730,
    titleX: 434, titleY: 1239, titleSize: 23,
    lgX: 544, lgY: 1351, lgDy: 24.1, lgSize: 12.8,
    tickSize: 12.8, tickY: 1748, yPad: 8,
    xtX: 439.6, xtY: 1769.6, xtSize: 16, ytX: 16, ytY: 1484, ytSize: 15.5
  }
];

const svg = d3.select("#chart");
svg.append("rect").attr("width", 851).attr("height", 1782).attr("fill", "#fff");

const DAY = 864e5;
const toDate = t => {
  const y = Math.floor(t);
  return new Date(Date.UTC(y, 0, 1) + (t - y) * 365.25 * DAY);
};
const fmt = d3.utcFormat("%m/%Y");
const diamond = h => `M0,${-h}L${h},0L0,${h}L${-h},0Z`;

panels.forEach(p => {
  const g = svg.append("g");

  g.append("rect")
    .attr("x", p.box[0]).attr("y", p.box[1])
    .attr("width", p.box[2] - p.box[0]).attr("height", p.box[3] - p.box[1])
    .attr("fill", "none").attr("stroke", "#111").attr("stroke-width", 2.2);

  const t0 = Date.UTC(p.startYear, 0, 1);
  const x = d3.scaleUtc()
    .domain([new Date(t0), new Date(t0 + p.endDays * DAY)])
    .range([p.left, p.right]);
  const y = d3.scaleLinear().domain([0, p.yMax]).range([p.bottom, p.top]);

  const yTicks = d3.range(0, p.yMax + 1, p.yStep);
  const xTicks = d3.range(p.nTicks).map(i => new Date(t0 + i * p.tickStep * DAY));

  // gridlines
  g.append("g").selectAll("line")
    .data(yTicks.slice(1))
    .join("line")
    .attr("x1", p.left).attr("x2", p.right)
    .attr("y1", d => y(d)).attr("y2", d => y(d))
    .attr("stroke", "#c3c3c3").attr("stroke-width", 1.3);

  const xAxis = g.append("g")
    .attr("transform", `translate(0,${p.bottom})`)
    .call(d3.axisBottom(x).tickValues(xTicks).tickFormat(fmt)
      .tickSize(5).tickSizeOuter(0)
      .tickPadding(p.tickY - p.bottom - 5 - 0.36 * p.tickSize));
  xAxis.attr("font-family", null).attr("font-size", p.tickSize).attr("color", "#8a8a8a");
  xAxis.select(".domain").attr("stroke-width", 1.3);

  const yAxis = g.append("g")
    .attr("transform", `translate(${p.left},0)`)
    .call(d3.axisLeft(y).tickValues(yTicks).tickSize(5).tickSizeOuter(0).tickPadding(p.yPad));
  yAxis.attr("font-family", null).attr("font-size", p.tickSize).attr("color", "#8a8a8a");
  yAxis.select(".domain").attr("stroke-width", 1.3);

  // discharge series
  const line = d3.line()
    .defined(d => d !== null)
    .x(d => x(toDate(d[0])))
    .y(d => y(d[1]));

  g.append("path")
    .datum(p.q)
    .attr("d", line)
    .attr("fill", "none")
    .attr("stroke", "#4a7ebb")
    .attr("stroke-width", 2.7)
    .attr("stroke-linejoin", "round");

  // modul line
  g.append("path")
    .datum(p.modulSpan.map(t => [t, p.modul]))
    .attr("d", line)
    .attr("fill", "none")
    .attr("stroke", "#ff0000")
    .attr("stroke-width", 3)
    .attr("stroke-dasharray", "10,6");

  // historical max / min
  g.append("path")
    .attr("d", diamond(7.5))
    .attr("transform", `translate(${x(toDate(p.max[0]))},${y(p.max[1])})`)
    .attr("fill", "#f23ec4").attr("stroke", "#9bbb59").attr("stroke-width", 1);

  g.append("path")
    .attr("d", diamond(7.5))
    .attr("transform", `translate(${x(toDate(p.min[0]))},${y(0)})`)
    .attr("fill", "#000").attr("stroke", "#5a2d7a").attr("stroke-width", 1);

  // legend
  const lg = g.append("g").attr("class", "legend").attr("font-size", p.lgSize);
  const rows = [legendLabels[0], p.modulText, legendLabels[1], legendLabels[2]];
  lg.selectAll("text").data(rows).join("text")
    .attr("x", p.lgX + 41)
    .attr("y", (d, i) => p.lgY + i * p.lgDy)
    .attr("dy", "0.35em")
    .text(d => d);

  lg.append("line")
    .attr("x1", p.lgX).attr("x2", p.lgX + 36)
    .attr("y1", p.lgY).attr("y2", p.lgY)
    .attr("stroke", "#4a7ebb").attr("stroke-width", 3);
  lg.append("line")
    .attr("x1", p.lgX).attr("x2", p.lgX + 32)
    .attr("y1", p.lgY + p.lgDy).attr("y2", p.lgY + p.lgDy)
    .attr("stroke", "#ff0000").attr("stroke-width", 3)
    .attr("stroke-dasharray", "8,4");
  lg.append("path")
    .attr("d", diamond(3.6))
    .attr("transform", `translate(${p.lgX + 19},${p.lgY + 2 * p.lgDy})`)
    .attr("fill", "#f23ec4");
  lg.append("path")
    .attr("d", diamond(3.6))
    .attr("transform", `translate(${p.lgX + 19},${p.lgY + 3 * p.lgDy})`)
    .attr("fill", "#000");

  // titles
  g.append("text")
    .attr("x", p.titleX).attr("y", p.titleY)
    .attr("dy", "0.35em")
    .attr("text-anchor", "middle")
    .attr("font-size", p.titleSize)
    .attr("fill", "#111")
    .text(p.title);

  g.append("text")
    .attr("x", p.xtX).attr("y", p.xtY)
    .attr("dy", "0.35em")
    .attr("text-anchor", "middle")
    .attr("font-size", p.xtSize)
    .attr("font-weight", "bold")
    .attr("fill", "#111")
    .text("time (days)");

  g.append("text")
    .attr("transform", `translate(${p.ytX},${p.ytY}) rotate(-90)`)
    .attr("dy", "0.35em")
    .attr("text-anchor", "middle")
    .attr("font-size", p.ytSize)
    .attr("font-weight", "bold")
    .attr("fill", "#111")
    .text(yTitle);
});
</script>
</body>
</html>
